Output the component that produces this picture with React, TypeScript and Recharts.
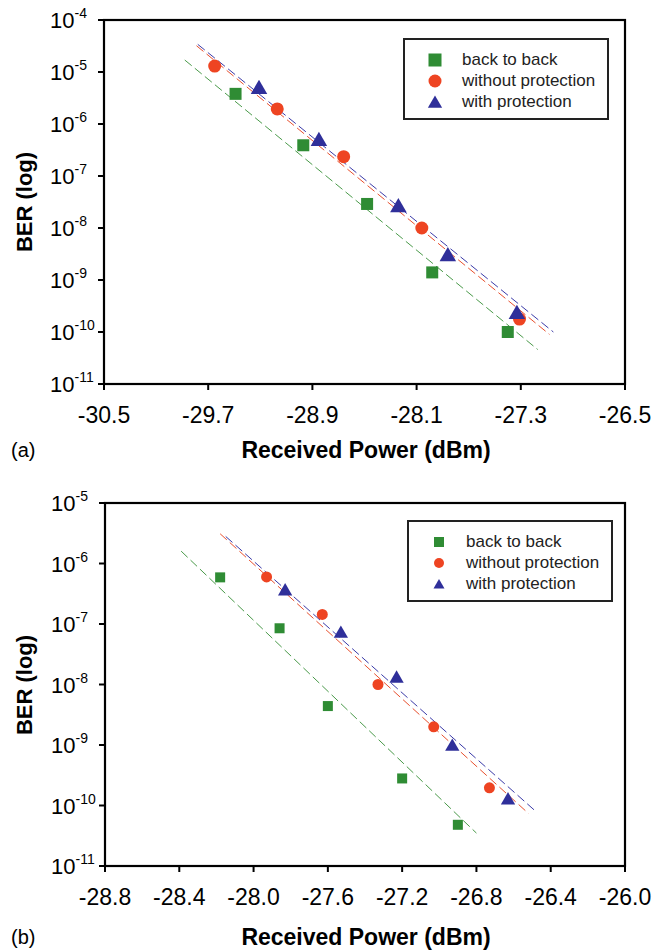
import { ScatterChart, Scatter, XAxis, YAxis } from 'recharts';

// panel (a)
const aXTicks = [-30.5, -29.7, -28.9, -28.1, -27.3, -26.5];
const aYTicks = [1e-4, 1e-5, 1e-6, 1e-7, 1e-8, 1e-9, 1e-10, 1e-11];
const aBackToBack = [
  { x: -29.49, y: 3.8e-6 },
  { x: -28.97, y: 3.9e-7 },
  { x: -28.48, y: 2.9e-8 },
  { x: -27.98, y: 1.4e-9 },
  { x: -27.4, y: 1.0e-10 },
];
const aWithout = [
  { x: -29.65, y: 1.3e-5 },
  { x: -29.17, y: 1.95e-6 },
  { x: -28.66, y: 2.35e-7 },
  { x: -28.06, y: 1.0e-8 },
  { x: -27.31, y: 1.77e-10 },
];
const aWith = [
  { x: -29.31, y: 5.1e-6 },
  { x: -28.85, y: 5.1e-7 },
  { x: -28.24, y: 2.7e-8 },
  { x: -27.86, y: 3.1e-9 },
  { x: -27.33, y: 2.4e-10 },
];
const aFitBackToBack = [
  { x: -29.88, y: 1.7e-5 },
  { x: -27.17, y: 4.6e-11 },
];
const aFitWithout = [
  { x: -29.79, y: 3.2e-5 },
  { x: -27.08, y: 9e-11 },
];
const aFitWith = [
  { x: -29.78, y: 3.4e-5 },
  { x: -27.05, y: 1.0e-10 },
];

// panel (b)
const bXTicks = [-28.8, -28.4, -28.0, -27.6, -27.2, -26.8, -26.4, -26.0];
const bYTicks = [1e-5, 1e-6, 1e-7, 1e-8, 1e-9, 1e-10, 1e-11];
const bBackToBack = [
  { x: -28.18, y: 5.9e-7 },
  { x: -27.86, y: 8.5e-8 },
  { x: -27.6, y: 4.4e-9 },
  { x: -27.2, y: 2.8e-10 },
  { x: -26.9, y: 4.8e-11 },
];
const bWithout = [
  { x: -27.93, y: 6.0e-7 },
  { x: -27.63, y: 1.44e-7 },
  { x: -27.33, y: 1.0e-8 },
  { x: -27.03, y: 2.0e-9 },
  { x: -26.73, y: 1.96e-10 },
];
const bWith = [
  { x: -27.83, y: 3.7e-7 },
  { x: -27.53, y: 7.4e-8 },
  { x: -27.23, y: 1.34e-8 },
  { x: -26.93, y: 1.0e-9 },
  { x: -26.63, y: 1.3e-10 },
];
const bFitBackToBack = [
  { x: -28.39, y: 1.6e-6 },
  { x: -26.8, y: 3.5e-11 },
];
const bFitWithout = [
  { x: -28.18, y: 3.1e-6 },
  { x: -26.52, y: 7.4e-11 },
];
const bFitWith = [
  { x: -28.15, y: 2.8e-6 },
  { x: -26.49, y: 8.5e-11 },
];

const seriesNames = ['back to back', 'without protection', 'with protection'];

const GREEN = '#2f8c34';
const RED = '#ee4422';
const BLUE = '#2f2f9a';

const square = (s: number) => (p: any) => (
  <rect x={p.cx - s / 2} y={p.cy - s / 2} width={s} height={s} fill={GREEN} />
);
const dot = (s: number) => (p: any) => <circle cx={p.cx} cy={p.cy} r={s / 2} fill={RED} />;
const tri = (s: number) => (p: any) => (
  <polygon
    points={`${p.cx},${p.cy - s * 0.5} ${p.cx - s * 0.55},${p.cy + s * 0.45} ${p.cx + s * 0.55},${p.cy + s * 0.45}`}
    fill={BLUE}
  />
);
const noShape = () => <g />;

const PowTick = (props: any) => {
  const { x, y, payload } = props;
  const e = Math.round(Math.log10(payload.value));
  return (
    <text x={x - 46} y={y + 8} textAnchor="start" fontSize={22} fill="#000">
      <tspan>10</tspan>
      <tspan fontSize={14} dy={-10}>
        {e}
      </tspan>
    </text>
  );
};

const XTick = (props: any) => {
  const { x, y, payload } = props;
  return (
    <text x={x} y={y} dy="0.72em" textAnchor="middle" fontSize={23} fill="#000">
      {Number(payload.value).toFixed(1)}
    </text>
  );
};

function Marker({ kind, s }: { kind: number; s: number }) {
  return (
    <svg width={16} height={16} style={{ display: 'block' }}>
      {kind === 0 && <rect x={8 - s / 2} y={8 - s / 2} width={s} height={s} fill={GREEN} />}
      {kind === 1 && <circle cx={8} cy={8} r={s / 2} fill={RED} />}
      {kind === 2 && (
        <polygon
          points={`8,${8 - s * 0.5} ${8 - s * 0.55},${8 + s * 0.45} ${8 + s * 0.55},${8 + s * 0.45}`}
          fill={BLUE}
        />
      )}
    </svg>
  );
}

function LegendBox({ left, top, s }: { left: number; top: number; s: number }) {
  return (
    <div
      style={{
        position: 'absolute',
        left,
        top,
        width: 206,
        height: 82,
        boxSizing: 'border-box',
        border: '2px solid #222',
        background: '#fff',
        paddingTop: 9,
      }}
    >
      {seriesNames.map((n, i) => (
        <div key={n} style={{ display: 'flex', alignItems: 'center', height: 21 }}>
          <div style={{ width: 22 }} />
          <Marker kind={i} s={s} />
          <div style={{ width: 19 }} />
          <span style={{ fontSize: 17, color: '#222' }}>{n}</span>
        </div>
      ))}
    </div>
  );
}

function Frame({ left, top, width, height }: { left: number; top: number; width: number; height: number }) {
  return (
    <svg
      width={653}
      height={top + height + 4}
      style={{ position: 'absolute', left: 0, top: 0, pointerEvents: 'none', zIndex: 5 }}
    >
      <rect x={left} y={top} width={width} height={height} fill="none" stroke="#000" strokeWidth={2.2} />
    </svg>
  );
}

function Panel(props: any) {
  const { top, height, mTop, yWidth, xTicks, yTicks, b2b, wo, wi, fb, fwo, fwi, tag, big } = props;
  const ms = big ? 13 : 11;
  const xDom = [xTicks[0], xTicks[xTicks.length - 1]];
  const yDom = [yTicks[yTicks.length - 1], yTicks[0]];
  const axisStyle = { stroke: '#000', strokeWidth: 2 };
  const plotW = 653 - 28 - yWidth;
  const plotH = height - mTop - 86;
  return (
    <div style={{ position: 'absolute', left: 0, top, width: 653, height }}>
      <ScatterChart width={653} height={height} margin={{ top: mTop, right: 28, bottom: 46, left: 0 }}>
        <XAxis
          type="number"
          dataKey="x"
          domain={xDom}
          ticks={xTicks}
          interval={0}
          height={40}
          tickSize={6}
          tickMargin={16}
          tick={<XTick />}
          axisLine={axisStyle}
          tickLine={axisStyle}
        />
        <YAxis
          type="number"
          dataKey="y"
          scale="log"
          domain={yDom}
          allowDataOverflow
          ticks={yTicks}
          interval={0}
          width={yWidth}
          tickSize={6}
          tickMargin={2}
          tick={<PowTick />}
          axisLine={axisStyle}
          tickLine={axisStyle}
        />
        <Scatter data={fb} fill={GREEN} line={{ stroke: '#4a9a4a', strokeWidth: 1, strokeDasharray: '9 4' }} shape={noShape} isAnimationActive={false} />
        <Scatter data={fwo} fill={RED} line={{ stroke: '#e8502e', strokeWidth: 1, strokeDasharray: '9 4' }} shape={noShape} isAnimationActive={false} />
        <Scatter data={fwi} fill={BLUE} line={{ stroke: '#3b3ba8', strokeWidth: 1, strokeDasharray: '9 4' }} shape={noShape} isAnimationActive={false} />
        <Scatter data={b2b} fill={GREEN} shape={square(ms - 1)} isAnimationActive={false} />
        <Scatter data={wo} fill={RED} shape={dot(ms)} isAnimationActive={false} />
        <Scatter data={wi} fill={BLUE} shape={tri(ms + 2)} isAnimationActive={false} />
      </ScatterChart>
      <Frame left={yWidth} top={mTop} width={plotW} height={plotH} />
      <div
        style={{
          position: 'absolute',
          left: 25,
          top: props.berY,
          transform: 'translate(-50%, -50%) rotate(-90deg)',
          fontSize: 22,
          fontWeight: 'bold',
          whiteSpace: 'nowrap',
        }}
      >
        BER (log)
      </div>
      <div
        style={{
          position: 'absolute',
          left: 366,
          top: props.titleY,
          transform: 'translate(-50%, -50%)',
          fontSize: 23,
          fontWeight: 'bold',
          whiteSpace: 'nowrap',
        }}
      >
        Received Power (dBm)
      </div>
      <div style={{ position: 'absolute', left: 11, top: props.titleY, transform: 'translateY(-50%)', fontSize: 20 }}>
        {tag}
      </div>
      <LegendBox left={props.legLeft} top={props.legTop} s={big ? 13 : 10} />
    </div>
  );
}

export default function App() {
  return (
    <div
      style={{
        position: 'absolute',
        left: 0,
        top: 0,
        width: 653,
        height: 952,
        background: '#fff',
        fontFamily: '"Liberation Sans", Arial, sans-serif',
        color: '#000',
      }}
    >
      <Panel
        top={0}
        height={470}
        mTop={20}
        yWidth={104}
        xTicks={aXTicks}
        yTicks={aYTicks}
        b2b={aBackToBack}
        wo={aWithout}
        wi={aWith}
        fb={aFitBackToBack}
        fwo={aFitWithout}
        fwi={aFitWith}
        tag="(a)"
        big
        berY={202}
        titleY={450}
        legLeft={403}
        legTop={38}
      />
      <Panel
        top={470}
        height={482}
        mTop={33}
        yWidth={105}
        xTicks={bXTicks}
        yTicks={bYTicks}
        b2b={bBackToBack}
        wo={bWithout}
        wi={bWith}
        fb={bFitBackToBack}
        fwo={bFitWithout}
        fwi={bFitWith}
        tag="(b)"
        berY={215}
        titleY={467}
        legLeft={407}
        legTop={50}
      />
    </div>
  );
}
